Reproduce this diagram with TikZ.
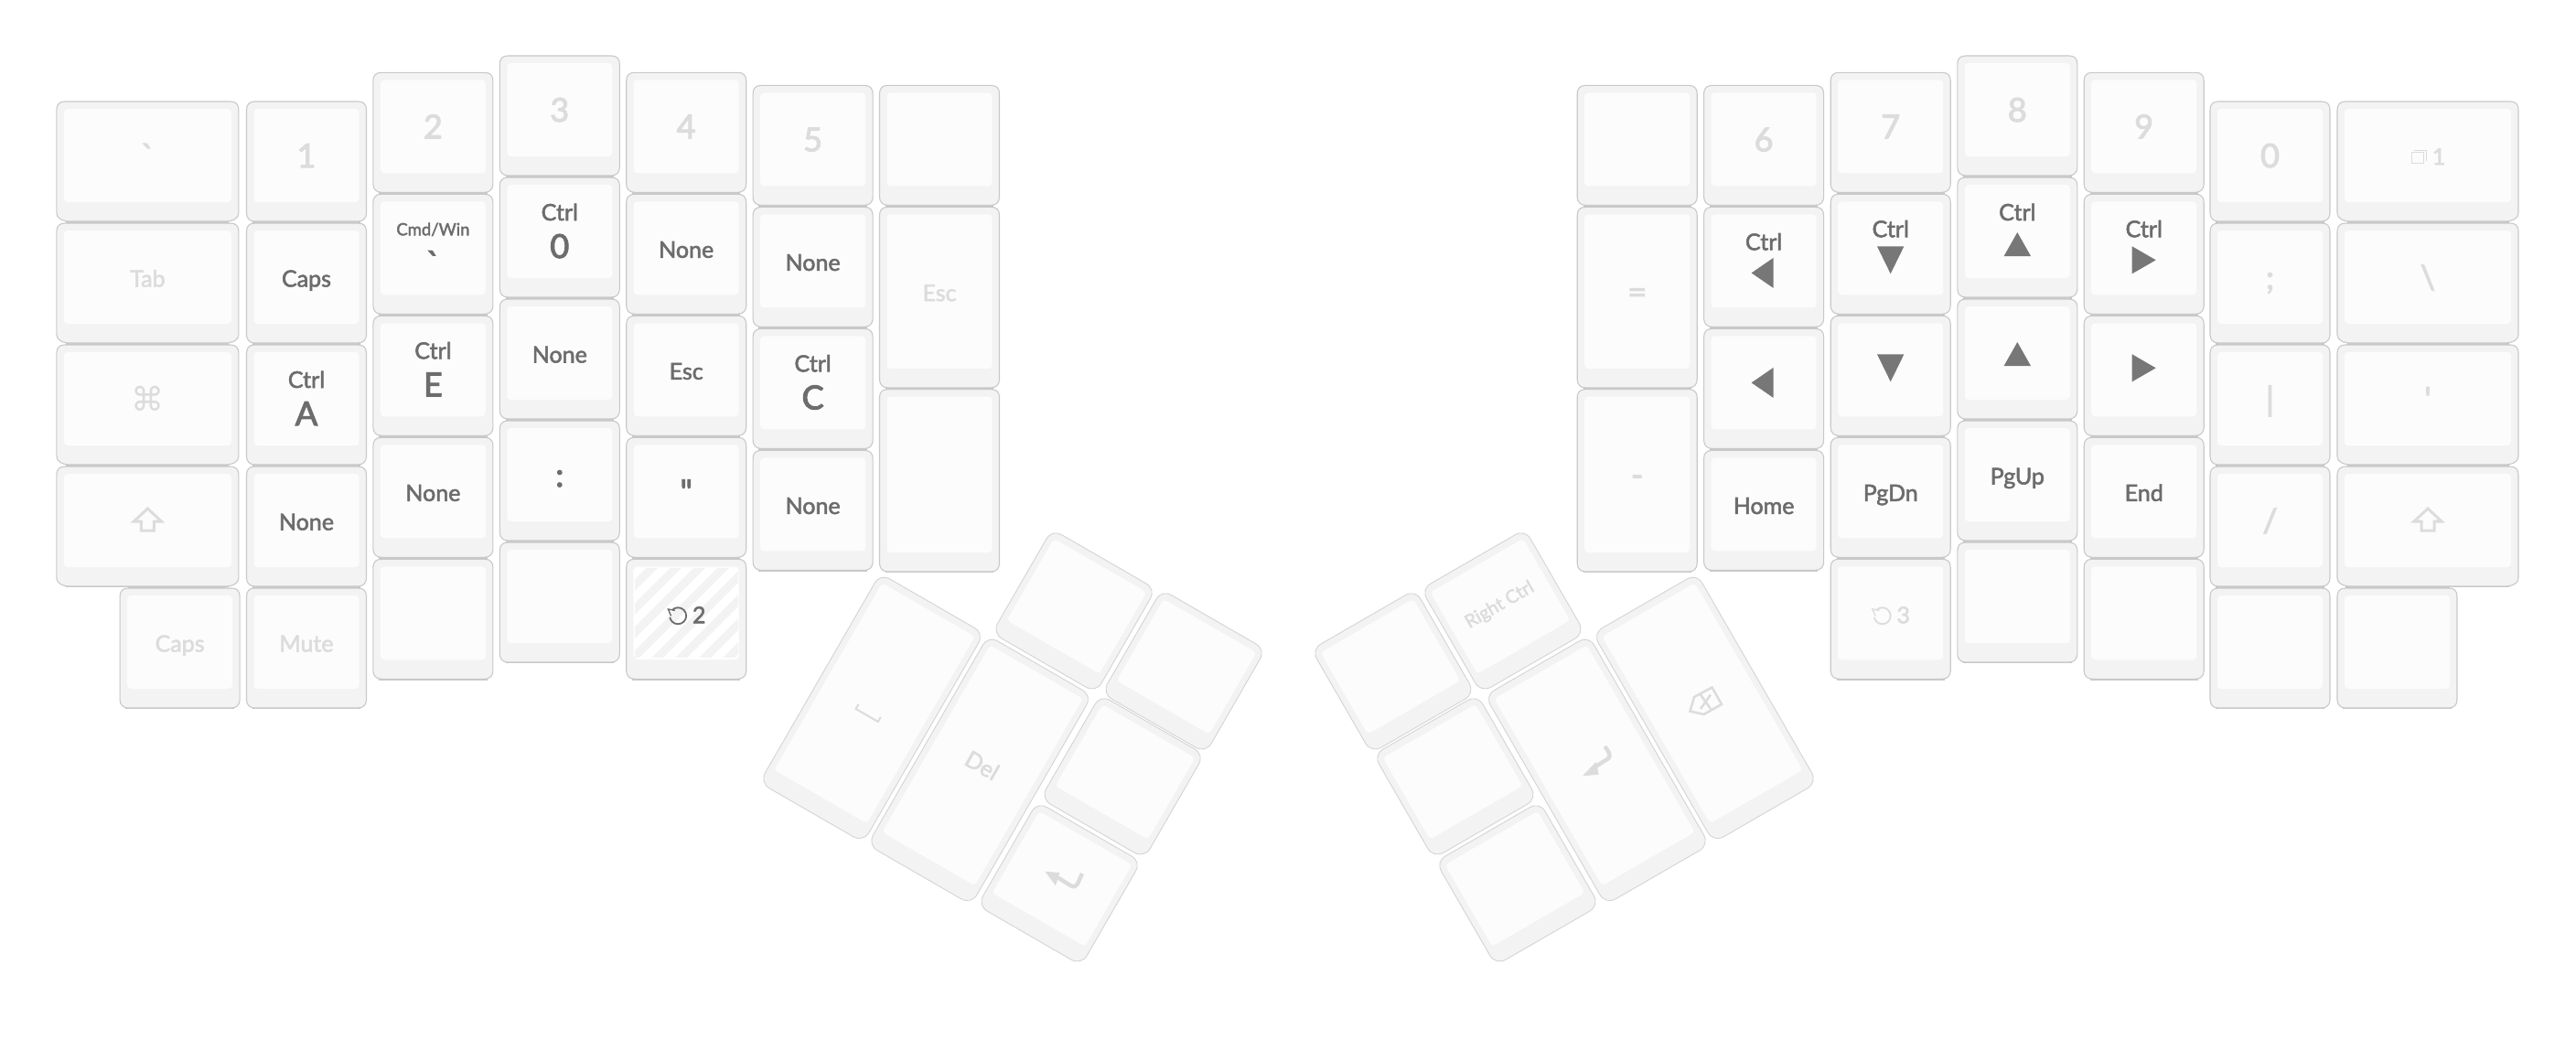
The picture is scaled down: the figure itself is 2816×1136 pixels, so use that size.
\documentclass[tikz,border=0pt]{standalone}
\usepackage{fontspec}
\setmainfont{Lato}
\newfontfamily\latom{Lato}[FakeBold=2.2]
\newfontfamily\latob{Lato}[FakeBold=3]
\newfontfamily\symf{DejaVu Sans}
\definecolor{capfill}{HTML}{F3F3F3}
\definecolor{capface}{HTML}{FCFCFC}
\definecolor{capline}{HTML}{C9C9C9}
\definecolor{capshad}{HTML}{C8C8C8}
\definecolor{tiltline}{HTML}{D4D4D4}
\definecolor{dk}{HTML}{6C6C6C}
\definecolor{lt}{HTML}{DCDCDC}
\definecolor{trig}{HTML}{777777}
\newcounter{lb}
\tikzset{
  x=0.5pt,y=-0.5pt,
  capbody/.style={fill=capfill,draw=capline,line width=0.55pt,line join=round},
  tiltbody/.style={fill=capfill,draw=tiltline,line width=0.45pt,line join=round},
  capface/.style={fill=capface,rounded corners=2pt},
  keylab/.style={inner sep=0pt,anchor=base,text depth=0pt},
  icon/.style={draw=#1,line width=1.5pt,line join=miter},
}
% outer cap outline: width, height, top radius, bottom radius x, bottom radius y, style
\newcommand\capoutline[6]{%
  \pgfmathsetmacro\hw{#1/2}\pgfmathsetmacro\hh{#2/2}%
  \pgfmathsetmacro\tq{#3*0.35}\pgfmathsetmacro\bqx{#4*0.4}\pgfmathsetmacro\bqy{#5*0.4}%
  \path[#6] ({-\hw+#3},{-\hh}) -- ({\hw-#3},{-\hh})
    .. controls ({\hw-\tq},{-\hh}) and ({\hw},{-\hh+\tq}) .. ({\hw},{-\hh+#3})
    -- ({\hw},{\hh-#5})
    .. controls ({\hw},{\hh-\bqy}) and ({\hw-\bqx},{\hh}) .. ({\hw-#4},{\hh})
    -- ({-\hw+#4},{\hh})
    .. controls ({-\hw+\bqx},{\hh}) and ({-\hw},{\hh-\bqy}) .. ({-\hw},{\hh-#5})
    -- ({-\hw},{-\hh+#3})
    .. controls ({-\hw},{-\hh+\tq}) and ({-\hw+\tq},{-\hh}) .. ({-\hw+#3},{-\hh}) -- cycle;
}
% [shadow] left, top, W, H, labels (local origin: face centre)
\newcommand\Key[6][2.8]{%
  \begin{scope}[shift={({#2+#4/2},{#3+#5/2})}]
    \pgfmathsetmacro\rbx{#4>150?15:9}
    \pgfmathsetmacro\shx{#4/2-\rbx*0.7}
    \fill[capshad] ({-\shx},{#5/2-2}) rectangle ({\shx},{#5/2+#1});
    \capoutline{#4}{#5}{9}{\rbx}{9}{capbody}
    \fill[capface] ({-#4/2+8},{-#5/2+8}) rectangle ({#4/2-8},{#5/2-21});
    \begin{scope}[yshift=3.25pt]
      #6
    \end{scope}
  \end{scope}
}
% centre x, centre y, rotation, H
\newcommand\TKey[4]{%
  \begin{scope}[shift={(#1,#2)},rotate=#3]
    \capoutline{131}{#4}{13}{13}{13}{tiltbody}
    \fill[capface] (-58.5,{-#4/2+8}) rectangle (58.5,{#4/2-20});
  \end{scope}
}
% colour, px size, baseline y, text
\newcommand\lab[4]{%
  \stepcounter{lb}%
  \pgfmathsetmacro\fs{#2/2}%
  \ifdim#2pt>30pt\let\lf\latob\else\let\lf\latom\fi
  \node[keylab,text=#1,font=\fontsize{\fs}{\fs}\lf] (k\arabic{lb}) at (0,#3) {#4};
}
\newcommand\one[2]{\lab{#1}{25}{10.5}{#2}}
\newcommand\bigk[2]{\lab{#1}{36}{13}{#2}}
\newcommand\tops[2][Ctrl]{\lab{dk}{25}{-12}{#1}\lab{dk}{36}{29}{#2}}
\newcommand\ctrltop{\lab{dk}{25}{-12}{Ctrl}}
\newcommand\triL[1]{\fill[trig] (-13.5,#1) -- (10.5,{#1-16.5}) -- (10.5,{#1+16.5}) -- cycle;}
\newcommand\triD[1]{\fill[trig] (-14.7,{#1-15}) -- (14.7,{#1-15}) -- (0,{#1+15}) -- cycle;}
\newcommand\triU[1]{\fill[trig] (0,{#1-13}) -- (14.7,{#1+13}) -- (-14.7,{#1+13}) -- cycle;}
\newcommand\triR[1]{\fill[trig] (-13,{#1-15}) -- (13,#1) -- (-13,{#1+15}) -- cycle;}
\newcommand\shiftglyph{\draw[icon=lt] (0,-13) -- (15,1) -- (7,1) -- (7,11) -- (-7,11) -- (-7,1) -- (-15,1) -- cycle;}
\newcommand\rotary[2]{% colour, digit
  \begin{scope}[shift={(-9,3)}]
    \draw[#1,line width=0.9pt] (-6.4,-6.4) arc[start angle=-135,end angle=170,x radius=9,y radius=9];
    \draw[#1,line width=0.7pt] (-3.3,-6) -- (-10.7,-7.3) -- (-7.7,0);
  \end{scope}
  \stepcounter{lb}%
  \node[keylab,text=#1,font=\fontsize{12.5}{12.5}\latom] (k\arabic{lb}) at (14,11) {#2};
}
\begin{document}
\begin{tikzpicture}
\useasboundingbox (0,0) rectangle (2816,1136);
\fill[white] (0,0) rectangle (2816,1136);
% ---------- left half
\Key{61.9}{111}{199}{131}{\bigk{lt}{`}}
\Key{61.9}{244}{199}{131}{\one{lt}{Tab}}
\Key{61.9}{377}{199}{131}{\stepcounter{lb}\node[inner sep=0pt,text=lt,font=\fontsize{18}{18}\symf] (k\arabic{lb}) at (0,0) {⌘};}
\Key[1.2]{61.9}{510}{199}{131}{\shiftglyph}
\fill[capshad] (140,641) rectangle (246,644);
\Key[1.2]{131.1}{643}{131}{131}{\one{lt}{Caps}}
\Key{269.5}{111}{131}{131}{\bigk{lt}{1}}
\Key{269.5}{244}{131}{131}{\one{dk}{Caps}}
\Key{269.5}{377}{131}{131}{\tops{A}}
\Key{269.5}{510}{131}{131}{\one{dk}{None}}
\Key[1.2]{269.5}{643}{131}{131}{\one{lt}{Mute}}
\Key{407.9}{79.3}{131}{131}{\bigk{lt}{2}}
\Key{407.9}{212.3}{131}{131}{\lab{dk}{18.5}{-14}{Cmd/Win}\lab{dk}{36}{29}{`}}
\Key{407.9}{345.3}{131}{131}{\tops{E}}
\Key{407.9}{478.3}{131}{131}{\one{dk}{None}}
\Key[1.2]{407.9}{611.3}{131}{131}{}
\Key{546.3}{61}{131}{131}{\bigk{lt}{3}}
\Key{546.3}{194}{131}{131}{\tops{0}}
\Key{546.3}{327}{131}{131}{\one{dk}{None}}
\Key{546.3}{460}{131}{131}{\bigk{dk}{:}}
\Key[1.2]{546.3}{593}{131}{131}{}
\Key{684.7}{79.3}{131}{131}{\bigk{lt}{4}}
\Key{684.7}{212.3}{131}{131}{\one{dk}{None}}
\Key{684.7}{345.3}{131}{131}{\one{dk}{Esc}}
\Key{684.7}{478.3}{131}{131}{\bigk{dk}{"}}
\Key[1.2]{684.7}{611.3}{131}{131}{%
  \begin{scope}
    \clip[rounded corners=2pt] (-57.5,-50) rectangle (57.5,50);
    \fill[capfill] (-57.5,-50) rectangle (57.5,50);
    \foreach \sx in {-160,-134,...,180}
      \draw[white,line width=4.6pt] (\sx,60) -- ({\sx+120},-60);
    \draw[white,line width=1pt] (-57.5,-50) rectangle (57.5,50);
  \end{scope}
  \rotary{dk}{2}}
\Key{823.1}{93.4}{131}{131}{\bigk{lt}{5}}
\Key{823.1}{226.4}{131}{131}{\one{dk}{None}}
\Key{823.1}{359.4}{131}{131}{\tops{C}}
\Key[1.2]{823.1}{492.4}{131}{131}{\one{dk}{None}}
\Key{961.5}{93.4}{131}{131}{}
\Key{961.5}{226.4}{131}{197.5}{\one{lt}{Esc}}
\Key[1.2]{961.5}{425.6}{131}{199.4}{}
% ---------- right half
\Key{1724.2}{93.4}{131}{131}{}
\Key{1724.2}{226.4}{131}{197.5}{\bigk{lt}{=}}
\Key[1.2]{1724.2}{425.6}{131}{199.4}{\bigk{lt}{-}}
\Key{1862.6}{93.4}{131}{131}{\bigk{lt}{6}}
\Key{1862.6}{226.4}{131}{131}{\ctrltop\triL{13}}
\Key{1862.6}{359.4}{131}{131}{\triL{0}}
\Key[1.2]{1862.6}{492.4}{131}{131}{\one{dk}{Home}}
\Key{2001.2}{79.3}{131}{131}{\bigk{lt}{7}}
\Key{2001.2}{212.3}{131}{131}{\ctrltop\triD{13}}
\Key{2001.2}{345.3}{131}{131}{\triD{-2}}
\Key{2001.2}{478.3}{131}{131}{\one{dk}{PgDn}}
\Key[1.2]{2001.2}{611.3}{131}{131}{\rotary{lt}{3}}
\Key{2139.8}{61}{131}{131}{\bigk{lt}{8}}
\Key{2139.8}{194}{131}{131}{\ctrltop\triU{14}}
\Key{2139.8}{327}{131}{131}{\triU{1}}
\Key{2139.8}{460}{131}{131}{\one{dk}{PgUp}}
\Key[1.2]{2139.8}{593}{131}{131}{}
\Key{2278.2}{79.3}{131}{131}{\bigk{lt}{9}}
\Key{2278.2}{212.3}{131}{131}{\ctrltop\triR{13}}
\Key{2278.2}{345.3}{131}{131}{\triR{-2}}
\Key{2278.2}{478.3}{131}{131}{\one{dk}{End}}
\Key[1.2]{2278.2}{611.3}{131}{131}{}
\Key{2416}{111}{131}{131}{\bigk{lt}{0}}
\Key{2416}{244}{131}{131}{\bigk{lt}{;}}
\Key{2416}{377}{131}{131}{\bigk{lt}{|}}
\Key{2416}{510}{131}{131}{\bigk{lt}{/}}
\Key[1.2]{2416}{643}{131}{131}{}
\Key{2555}{111}{198}{131}{%
  \fill[capface,draw=lt,line width=0.5pt,rounded corners=0pt] (-18,-4) rectangle (-5,8);
  \draw[lt,line width=0.9pt] (-15,-5.5) -- (-1.5,-5.5) -- (-1.5,6);
  \stepcounter{lb}\node[keylab,text=lt,font=\fontsize{12.5}{12.5}\latom] (k\arabic{lb}) at (12,10) {1};}
\Key{2555}{244}{198}{131}{\bigk{lt}{\textbackslash}}
\Key{2555}{377}{198}{131}{\bigk{lt}{'}}
\Key[1.2]{2555}{510}{198}{131}{\shiftglyph}
\fill[capshad] (2564,641) rectangle (2678,644);
\Key[1.2]{2555}{643}{131}{131}{}
% ---------- left thumb cluster
\TKey{953}{774}{-30}{264}
\TKey{1071}{842}{-30}{264}
\TKey{1174}{668}{-30}{131}
\TKey{1294}{734}{-30}{131}
\TKey{1227}{849}{-30}{131}
\TKey{1158}{966}{-30}{131}
% ---------- right thumb cluster
\TKey{1864}{774}{30}{264}
\TKey{1746}{842}{30}{264}
\TKey{1643}{668}{30}{131}
\TKey{1523}{734}{30}{131}
\TKey{1591}{849}{30}{131}
\TKey{1659}{966}{30}{131}
% ---------- thumb labels
\begin{scope}[shift={(947.7,782)},rotate=-30]
  \draw[lt,line width=1pt] (-14,-6) -- (-14,0) -- (14,0) -- (14,-6);
\end{scope}
\node[inner sep=0pt,text=lt,rotate=-30,font=\fontsize{12.5}{12.5}\latom] (delk) at (1073.7,836.7) {Del};
\node[inner sep=0pt,text=lt,rotate=30,font=\fontsize{10}{10}\latom] (rctrl) at (1639.5,661.7) {Right Ctrl};
% left enter glyph
\fill[lt] (1142.3,952.7) -- (1158.3,954) -- (1154,968.3) -- cycle;
\draw[lt,line width=2.2pt,line join=round] (1154,958) -- (1171,968.5) .. controls (1174,970) and (1176,969) .. (1178,966) -- (1183,955);
% right enter glyph
\fill[lt] (1730,848.3) -- (1744.6,833) -- (1747.7,846.7) -- cycle;
\draw[lt,line width=2.2pt,line join=round] (1741,840) -- (1757,830) .. controls (1760,828) and (1760,826) .. (1759,823) -- (1754.5,816);
% backspace glyph
\draw[lt,line width=1.25pt,line join=miter] (1871.5,751.5) -- (1882,770) -- (1862.5,781) -- (1847.5,777.5) -- (1852,762) -- cycle;
\draw[lt,line width=1.25pt] (1859,759.5) -- (1870,775) (1859,775) -- (1870,759.5);
\end{tikzpicture}
\end{document}
